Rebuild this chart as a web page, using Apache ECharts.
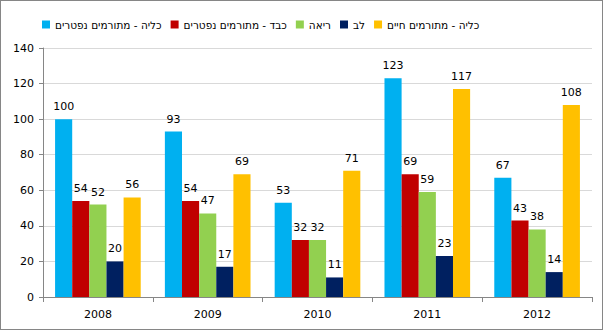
<!DOCTYPE html>
<html dir="ltr"><head><meta charset="utf-8">
<script src="https://cdn.jsdelivr.net/npm/echarts@6/dist/echarts.min.js"></script>
<style>html,body{margin:0;padding:0;background:#fff}#c{width:603px;height:330px;box-sizing:border-box;border:1px solid #868686}</style>
</head><body><div id="c"></div>
<script>
const years = ['2008','2009','2010','2011','2012'];
const seriesNames = ['כליה - מתורמים נפטרים','כבד - מתורמים נפטרים','ריאה','לב','כליה - מתורמים חיים'];
const kidneyDeceased = [100,93,53,123,67];
const liverDeceased = [54,54,32,69,43];
const lung = [52,47,32,59,38];
const heart = [20,17,11,23,14];
const kidneyLiving = [56,69,71,117,108];
const colors = ['#00B0F0','#C00000','#92D050','#002060','#FFC000'];
const values = [kidneyDeceased,liverDeceased,lung,heart,kidneyLiving];
const font = 'DejaVu Sans';
const chart = echarts.init(document.getElementById('c'), null, {renderer:'svg'});
chart.setOption({
  animation:false,
  textStyle:{fontFamily:font},
  legend:{top:13,left:36,itemWidth:8,itemHeight:8,itemGap:9,icon:'rect',
    textStyle:{fontSize:10.5,color:'#000',fontFamily:font},
    data:seriesNames},
  grid:{left:42,right:10,top:47,bottom:32},
  xAxis:{type:'category',data:years,
    axisLine:{lineStyle:{color:'#868686'}},
    axisTick:{show:true,length:5,lineStyle:{color:'#868686'}},
    axisLabel:{color:'#000',fontSize:11,margin:12,fontFamily:font}},
  yAxis:{type:'value',min:0,max:140,interval:20,
    axisLine:{show:true,lineStyle:{color:'#868686'}},
    axisTick:{show:true,length:4,lineStyle:{color:'#868686'}},
    splitLine:{lineStyle:{color:'#D9D9D9'}},
    axisLabel:{color:'#000',fontSize:11,margin:9,fontFamily:font}},
  series: seriesNames.map((n,i)=>({name:n,type:'bar',data:values[i],
    itemStyle:{color:colors[i]},barGap:'0%',barCategoryGap:'22%',
    label:{show:true,position:'top',color:'#000',fontSize:11,distance:7,fontFamily:font}}))
});
</script></body></html>
